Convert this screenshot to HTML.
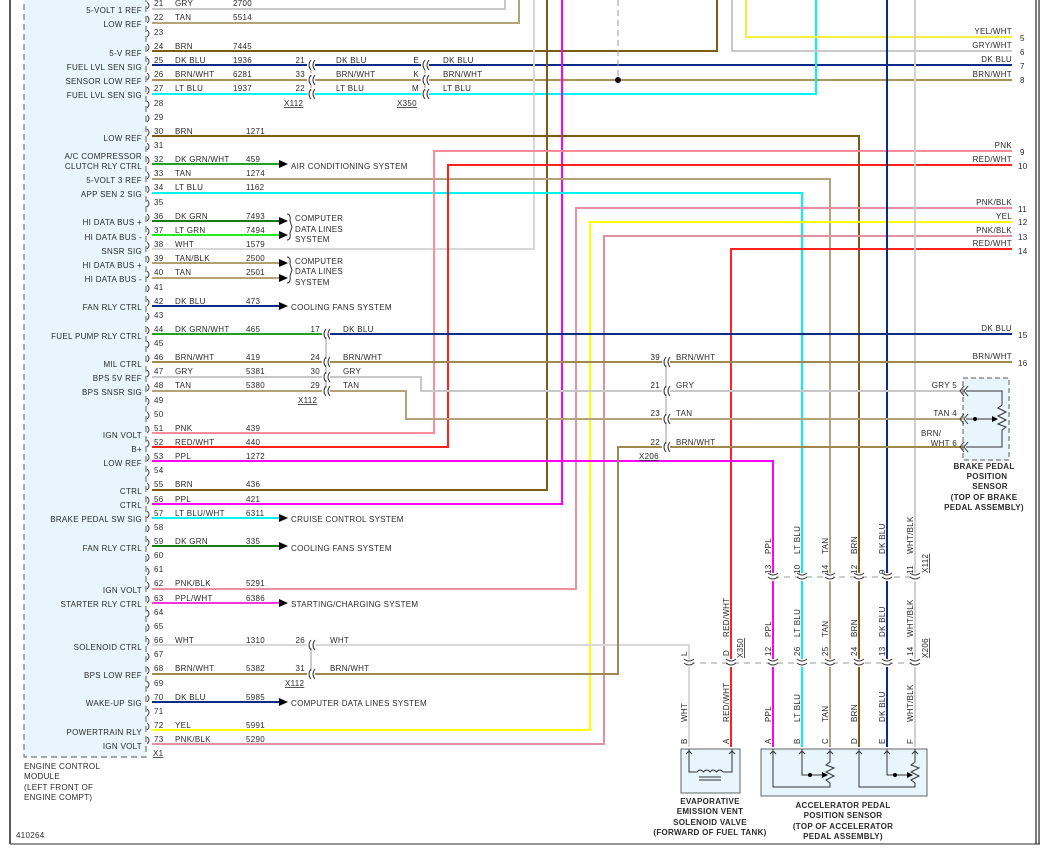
<!DOCTYPE html>
<html><head><meta charset="utf-8"><style>
html,body{margin:0;padding:0;background:#fff;}
svg{display:block;}
text{font-family:"Liberation Sans",sans-serif;font-size:8px;fill:#2a2a2a;letter-spacing:0.3px;}
.e{text-anchor:end;}
.m{text-anchor:middle;}
.b{font-weight:bold;}
.w{fill:none;stroke-width:2;stroke-linejoin:miter;}
</style></head><body>
<svg width="1045" height="851" viewBox="0 0 1045 851" xmlns="http://www.w3.org/2000/svg">
<defs>
<g id="c"><rect x="0" y="-3" width="8" height="6" fill="#fff"/><path d="M4,-5 Q0,0 4,5 M8,-5 Q4,0 8,5" stroke="#333" fill="none" stroke-width="1"/></g>
<g id="v"><rect x="-3" y="-4" width="6" height="8" fill="#fff"/><path d="M-5,-4 Q0,0 5,-4 M-5,0 Q0,4 5,0" stroke="#333" fill="none" stroke-width="1"/></g>
<g id="a"><path d="M-3,3 L0,0 L3,3" stroke="#333" fill="none" stroke-width="1"/></g>
</defs>
<!-- frame -->
<line x1="10" y1="0" x2="10" y2="844" stroke="#222" stroke-width="1.5"/>
<line x1="10" y1="844" x2="1040" y2="844" stroke="#555" stroke-width="1.2"/>
<line x1="1036" y1="0" x2="1036" y2="844" stroke="#222" stroke-width="1.2"/>
<line x1="1039" y1="0" x2="1039" y2="844" stroke="#222" stroke-width="1.2"/>
<!-- ECM box -->
<rect x="24" y="-2" width="122" height="759" fill="#e8f5fc" stroke="#777" stroke-width="1.2" stroke-dasharray="6,4"/>
<path d="M147,2 Q151,5.5 147,9 M147,16 Q151,19.5 147,23 M147,30 Q151,33.5 147,37 M147,44 Q151,47.5 147,51 M147,58 Q151,61.5 147,65 M147,73 Q151,76.5 147,80 M147,87 Q151,90.5 147,94 M147,101 Q151,104.5 147,108 M147,115 Q151,118.5 147,122 M147,129 Q151,132.5 147,136 M147,143 Q151,146.5 147,150 M147,157 Q151,160.5 147,164 M147,172 Q151,175.5 147,179 M147,186 Q151,189.5 147,193 M147,200 Q151,203.5 147,207 M147,214 Q151,217.5 147,221 M147,228 Q151,231.5 147,235 M147,242 Q151,245.5 147,249 M147,256 Q151,259.5 147,263 M147,271 Q151,274.5 147,278 M147,285 Q151,288.5 147,292 M147,299 Q151,302.5 147,306 M147,313 Q151,316.5 147,320 M147,327 Q151,330.5 147,334 M147,341 Q151,344.5 147,348 M147,355 Q151,358.5 147,362 M147,370 Q151,373.5 147,377 M147,384 Q151,387.5 147,391 M147,398 Q151,401.5 147,405 M147,412 Q151,415.5 147,419 M147,426 Q151,429.5 147,433 M147,440 Q151,443.5 147,447 M147,454 Q151,457.5 147,461 M147,469 Q151,472.5 147,476 M147,483 Q151,486.5 147,490 M147,497 Q151,500.5 147,504 M147,511 Q151,514.5 147,518 M147,525 Q151,528.5 147,532 M147,539 Q151,542.5 147,546 M147,554 Q151,557.5 147,561 M147,568 Q151,571.5 147,575 M147,582 Q151,585.5 147,589 M147,596 Q151,599.5 147,603 M147,610 Q151,613.5 147,617 M147,624 Q151,627.5 147,631 M147,638 Q151,641.5 147,645 M147,653 Q151,656.5 147,660 M147,667 Q151,670.5 147,674 M147,681 Q151,684.5 147,688 M147,695 Q151,698.5 147,702 M147,709 Q151,712.5 147,716 M147,723 Q151,726.5 147,730 M147,737 Q151,740.5 147,744" stroke="#444" fill="none" stroke-width="1"/>

<!-- wires -->
<polyline class="w" stroke="#c8c8c8" points="152,9 505,9 505,0"/>
<polyline class="w" stroke="#b4a278" points="152,23 519,23 519,0"/>
<polyline class="w" stroke="#7a5c14" points="152,51 717,51 717,0"/>
<polyline class="w" stroke="#0c2a88" points="152,65 1012,65"/>
<polyline class="w" stroke="#a89060" points="152,80 1012,80"/>
<polyline class="w" stroke="#00f4f4" points="152,94 816,94 816,0"/>
<polyline class="w" stroke="#f4f040" points="1012,37 746,37 746,0"/>
<polyline class="w" stroke="#c8c8c8" points="1012,51 732,51 732,0"/>
<line x1="618" y1="0" x2="618" y2="80" stroke="#999" stroke-width="1" stroke-dasharray="6,4"/>
<circle cx="618" cy="80" r="3" fill="#111"/>
<polyline class="w" stroke="#d8d8d8" points="152,249 534,249 534,0"/>
<polyline class="w" stroke="#7a5c14" points="152,490 547,490 547,0"/>
<polyline class="w" stroke="#ff00ff" points="152,504 562,504 562,0"/>
<polyline class="w" stroke="#7a5c14" points="152,136 859,136 859,747"/>
<polyline class="w" stroke="#b4a278" points="152,179 830,179 830,747"/>
<polyline class="w" stroke="#00f4f4" points="152,193 802,193 802,747"/>
<polyline class="w" stroke="#ff8a9a" points="152,433 434,433 434,151 1012,151"/>
<polyline class="w" stroke="#ff2020" points="152,447 448,447 448,165 1012,165"/>
<polyline class="w" stroke="#e890a0" points="152,589 576,589 576,208 1012,208"/>
<polyline class="w" stroke="#ffff00" points="152,730 590,730 590,222 1012,222"/>
<polyline class="w" stroke="#e090a0" points="152,744 604,744 604,236 1012,236"/>
<polyline class="w" stroke="#ff2020" points="1012,249 731,249 731,747"/>
<polyline class="w" stroke="#0c2a88" points="887,0 887,747"/>
<polyline class="w" stroke="#d0d0d0" points="915,0 915,747"/>
<polyline class="w" stroke="#22a022" points="152,334 323,334"/>
<polyline class="w" stroke="#0c2a88" points="323,334 1012,334"/>
<polyline class="w" stroke="#a08850" points="152,362 1012,362"/>
<polyline class="w" stroke="#c8c8c8" points="152,377 421,377 421,391 964,391"/>
<polyline class="w" stroke="#b4a278" points="152,391 406,391 406,419 964,419"/>
<polyline class="w" stroke="#ff00ff" points="152,461 773,461 773,747"/>
<polyline class="w" stroke="#d8d8d8" points="152,645 689,645 689,747"/>
<polyline class="w" stroke="#a08850" points="152,674 618,674 618,447 964,447"/>
<!-- arrow wires -->
<polyline class="w" stroke="#22a022" points="152,164 281,164"/>
<polyline class="w" stroke="#1a7a1a" points="152,221 281,221"/>
<polyline class="w" stroke="#22ee22" points="152,235 281,235"/>
<polyline class="w" stroke="#b0a070" points="152,263 281,263"/>
<polyline class="w" stroke="#b4a278" points="152,278 281,278"/>
<polyline class="w" stroke="#0c2a88" points="152,306 281,306"/>
<polyline class="w" stroke="#00f4f4" points="152,518 281,518"/>
<polyline class="w" stroke="#1a7a1a" points="152,546 281,546"/>
<polyline class="w" stroke="#ff33dd" points="152,603 281,603"/>
<polyline class="w" stroke="#0c2a88" points="152,702 281,702"/>
<path d="M279,160 L288,164 L279,168Z M279,217 L288,221 L279,225Z M279,231 L288,235 L279,239Z M279,259 L288,263 L279,267Z M279,274 L288,278 L279,282Z M279,302 L288,306 L279,310Z M279,514 L288,518 L279,522Z M279,542 L288,546 L279,550Z M279,599 L288,603 L279,607Z M279,698 L288,702 L279,706Z" fill="#000"/>
<path d="M287,214 Q291,214 290,221 L292,227 L290,233 Q291,240 287,240 M287,257 Q291,257 290,264 L292,270 L290,276 Q291,283 287,283" stroke="#333" fill="none" stroke-width="1"/>

<!-- connectors -->
<line x1="311" y1="65" x2="311" y2="94" stroke="#999" stroke-width="1" stroke-dasharray="3,2"/>
<line x1="425" y1="65" x2="425" y2="94" stroke="#999" stroke-width="1" stroke-dasharray="3,2"/>
<line x1="326" y1="334" x2="326" y2="391" stroke="#999" stroke-width="1"/>
<line x1="311" y1="645" x2="311" y2="674" stroke="#999" stroke-width="1"/>
<line x1="666" y1="362" x2="666" y2="447" stroke="#999" stroke-width="1"/>
<use href="#c" x="307" y="65"/><use href="#c" x="307" y="80"/><use href="#c" x="307" y="94"/>
<use href="#c" x="421" y="65"/><use href="#c" x="421" y="80"/><use href="#c" x="421" y="94"/>
<use href="#c" x="322" y="334"/><use href="#c" x="322" y="362"/><use href="#c" x="322" y="377"/><use href="#c" x="322" y="391"/>
<use href="#c" x="307" y="645"/><use href="#c" x="307" y="674"/>
<use href="#c" x="662" y="362"/><use href="#c" x="662" y="391"/><use href="#c" x="662" y="419"/><use href="#c" x="662" y="447"/>
<line x1="773" y1="577" x2="915" y2="577" stroke="#999" stroke-width="1" stroke-dasharray="6,5"/>
<line x1="689" y1="663" x2="915" y2="663" stroke="#999" stroke-width="1" stroke-dasharray="6,5"/>
<use href="#v" x="773" y="577"/><use href="#v" x="802" y="577"/><use href="#v" x="830" y="577"/><use href="#v" x="859" y="577"/><use href="#v" x="887" y="577"/><use href="#v" x="915" y="577"/>
<use href="#v" x="689" y="663"/><use href="#v" x="731" y="663"/><use href="#v" x="773" y="663"/><use href="#v" x="802" y="663"/><use href="#v" x="830" y="663"/><use href="#v" x="859" y="663"/><use href="#v" x="887" y="663"/><use href="#v" x="915" y="663"/>

<!-- brake sensor -->
<rect x="963" y="378" width="46" height="82" fill="#e8f5fc" stroke="#777" stroke-width="1.2" stroke-dasharray="5,3"/>
<path d="M966,391 L1002,391 L1002,405 L998,408 L1006,412 L998,416 L1006,420 L998,424 L1006,427 L1002,430 L1002,447 L966,447 M966,419 L996,419" stroke="#333" fill="none" stroke-width="1"/>
<path d="M992,416 L998,419 L992,422Z" fill="#000"/><circle cx="975" cy="419" r="2" fill="#000"/>
<path d="M964,386 L960,391 L964,396 M968,386 L964,391 L968,396 M964,414 L960,419 L964,424 M968,414 L964,419 L968,424 M964,442 L960,447 L964,452 M968,442 L964,447 L968,452" stroke="#333" fill="none" stroke-width="1"/>

<!-- evap box -->
<rect x="681" y="749" width="59" height="44" fill="#e8f5fc" stroke="#666" stroke-width="1"/>
<path d="M689,749 L689,772 L697,772 M723,772 L732,772 L732,749 M697,772 q3,-4 6.5,0 q3,-4 6.5,0 q3,-4 6.5,0 q3,-4 6.5,0 M699,777 L721,777 M699,780 L721,780" stroke="#333" fill="none" stroke-width="1"/>
<!-- accel box -->
<rect x="761" y="749" width="166" height="47" fill="#e8f5fc" stroke="#666" stroke-width="1"/>
<path d="M773,749 L773,787 L830,787 L830,783 L826,780 L834,776 L826,772 L834,768 L826,765 L830,762 L830,749 M802,749 L802,775 L824,775 M859,749 L859,787 L915,787 L915,783 L911,780 L919,776 L911,772 L919,768 L911,765 L915,762 L915,749 M887,749 L887,775 L909,775" stroke="#333" fill="none" stroke-width="1"/>
<path d="M822,772 L828,775 L822,778Z M907,772 L913,775 L907,778Z" fill="#000"/>
<circle cx="810" cy="775" r="2" fill="#000"/><circle cx="895" cy="775" r="2" fill="#000"/>
<use href="#a" x="689" y="751"/><use href="#a" x="732" y="751"/><use href="#a" x="773" y="751"/><use href="#a" x="802" y="751"/><use href="#a" x="830" y="751"/><use href="#a" x="859" y="751"/><use href="#a" x="887" y="751"/><use href="#a" x="915" y="751"/>

<!-- ECM labels -->
<g class="e">
<text x="142" y="13" class="e">5-VOLT 1 REF</text>
<text x="142" y="27" class="e">LOW REF</text>
<text x="142" y="56" class="e">5-V REF</text>
<text x="142" y="70" class="e">FUEL LVL SEN SIG</text>
<text x="142" y="84" class="e">SENSOR LOW REF</text>
<text x="142" y="98" class="e">FUEL LVL SEN SIG</text>
<text x="142" y="141" class="e">LOW REF</text>
<text x="142" y="159" class="e">A/C COMPRESSOR</text>
<text x="142" y="169" class="e">CLUTCH RLY CTRL</text>
<text x="142" y="183" class="e">5-VOLT 3 REF</text>
<text x="142" y="197" class="e">APP SEN 2 SIG</text>
<text x="142" y="225" class="e">HI DATA BUS +</text>
<text x="142" y="240" class="e">HI DATA BUS -</text>
<text x="142" y="254" class="e">SNSR SIG</text>
<text x="142" y="268" class="e">HI DATA BUS +</text>
<text x="142" y="282" class="e">HI DATA BUS -</text>
<text x="142" y="310" class="e">FAN RLY CTRL</text>
<text x="142" y="339" class="e">FUEL PUMP RLY CTRL</text>
<text x="142" y="367" class="e">MIL CTRL</text>
<text x="142" y="381" class="e">BPS 5V REF</text>
<text x="142" y="395" class="e">BPS SNSR SIG</text>
<text x="142" y="438" class="e">IGN VOLT</text>
<text x="142" y="452" class="e">B+</text>
<text x="142" y="466" class="e">LOW REF</text>
<text x="142" y="494" class="e">CTRL</text>
<text x="142" y="508" class="e">CTRL</text>
<text x="142" y="522" class="e">BRAKE PEDAL SW SIG</text>
<text x="142" y="551" class="e">FAN RLY CTRL</text>
<text x="142" y="593" class="e">IGN VOLT</text>
<text x="142" y="607" class="e">STARTER RLY CTRL</text>
<text x="142" y="650" class="e">SOLENOID CTRL</text>
<text x="142" y="678" class="e">BPS LOW REF</text>
<text x="142" y="706" class="e">WAKE-UP SIG</text>
<text x="142" y="735" class="e">POWERTRAIN RLY</text>
<text x="142" y="749" class="e">IGN VOLT</text>
</g>
<text x="24" y="769">ENGINE CONTROL</text>
<text x="24" y="779">MODULE</text>
<text x="24" y="790">(LEFT FRONT OF</text>
<text x="24" y="800">ENGINE COMPT)</text>
<text x="16" y="838">410264</text>
<text x="153" y="756" text-decoration="underline">X1</text>

<!-- pin numbers -->
<text x="154" y="6">21</text><text x="154" y="20">22</text><text x="154" y="35">23</text><text x="154" y="49">24</text><text x="154" y="63">25</text><text x="154" y="77">26</text><text x="154" y="91">27</text><text x="154" y="106">28</text><text x="154" y="120">29</text><text x="154" y="134">30</text><text x="154" y="148">31</text><text x="154" y="162">32</text><text x="154" y="176">33</text><text x="154" y="190">34</text><text x="154" y="205">35</text><text x="154" y="219">36</text><text x="154" y="233">37</text><text x="154" y="247">38</text><text x="154" y="261">39</text><text x="154" y="275">40</text><text x="154" y="290">41</text><text x="154" y="304">42</text><text x="154" y="318">43</text><text x="154" y="332">44</text><text x="154" y="346">45</text><text x="154" y="360">46</text><text x="154" y="374">47</text><text x="154" y="388">48</text><text x="154" y="403">49</text><text x="154" y="417">50</text><text x="154" y="431">51</text><text x="154" y="445">52</text><text x="154" y="459">53</text><text x="154" y="473">54</text><text x="154" y="487">55</text><text x="154" y="502">56</text><text x="154" y="516">57</text><text x="154" y="530">58</text><text x="154" y="544">59</text><text x="154" y="558">60</text><text x="154" y="572">61</text><text x="154" y="586">62</text><text x="154" y="601">63</text><text x="154" y="615">64</text><text x="154" y="629">65</text><text x="154" y="643">66</text><text x="154" y="657">67</text><text x="154" y="671">68</text><text x="154" y="686">69</text><text x="154" y="700">70</text><text x="154" y="714">71</text><text x="154" y="728">72</text><text x="154" y="742">73</text>

<!-- wire color + circuit labels -->
<text x="175" y="6">GRY</text><text x="233" y="6">2700</text>
<text x="175" y="20">TAN</text><text x="233" y="20">5514</text>
<text x="175" y="49">BRN</text><text x="233" y="49">7445</text>
<text x="175" y="63">DK BLU</text><text x="233" y="63">1936</text>
<text x="175" y="77">BRN/WHT</text><text x="233" y="77">6281</text>
<text x="175" y="91">LT BLU</text><text x="233" y="91">1937</text>
<text x="175" y="134">BRN</text><text x="246" y="134">1271</text>
<text x="175" y="162">DK GRN/WHT</text><text x="246" y="162">459</text>
<text x="175" y="176">TAN</text><text x="246" y="176">1274</text>
<text x="175" y="190">LT BLU</text><text x="246" y="190">1162</text>
<text x="175" y="219">DK GRN</text><text x="246" y="219">7493</text>
<text x="175" y="233">LT GRN</text><text x="246" y="233">7494</text>
<text x="175" y="247">WHT</text><text x="246" y="247">1579</text>
<text x="175" y="261">TAN/BLK</text><text x="246" y="261">2500</text>
<text x="175" y="275">TAN</text><text x="246" y="275">2501</text>
<text x="175" y="304">DK BLU</text><text x="246" y="304">473</text>
<text x="175" y="332">DK GRN/WHT</text><text x="246" y="332">465</text>
<text x="175" y="360">BRN/WHT</text><text x="246" y="360">419</text>
<text x="175" y="374">GRY</text><text x="246" y="374">5381</text>
<text x="175" y="388">TAN</text><text x="246" y="388">5380</text>
<text x="175" y="431">PNK</text><text x="246" y="431">439</text>
<text x="175" y="445">RED/WHT</text><text x="246" y="445">440</text>
<text x="175" y="459">PPL</text><text x="246" y="459">1272</text>
<text x="175" y="487">BRN</text><text x="246" y="487">436</text>
<text x="175" y="502">PPL</text><text x="246" y="502">421</text>
<text x="175" y="516">LT BLU/WHT</text><text x="246" y="516">6311</text>
<text x="175" y="544">DK GRN</text><text x="246" y="544">335</text>
<text x="175" y="586">PNK/BLK</text><text x="246" y="586">5291</text>
<text x="175" y="601">PPL/WHT</text><text x="246" y="601">6386</text>
<text x="175" y="643">WHT</text><text x="246" y="643">1310</text>
<text x="175" y="671">BRN/WHT</text><text x="246" y="671">5382</text>
<text x="175" y="700">DK BLU</text><text x="246" y="700">5985</text>
<text x="175" y="728">YEL</text><text x="246" y="728">5991</text>
<text x="175" y="742">PNK/BLK</text><text x="246" y="742">5290</text>

<!-- system labels -->
<text x="291" y="169">AIR CONDITIONING SYSTEM</text>
<text x="295" y="221">COMPUTER</text><text x="295" y="232">DATA LINES</text><text x="295" y="242">SYSTEM</text>
<text x="295" y="264">COMPUTER</text><text x="295" y="274">DATA LINES</text><text x="295" y="285">SYSTEM</text>
<text x="291" y="310">COOLING FANS SYSTEM</text>
<text x="291" y="522">CRUISE CONTROL SYSTEM</text>
<text x="291" y="551">COOLING FANS SYSTEM</text>
<text x="291" y="607">STARTING/CHARGING SYSTEM</text>
<text x="291" y="706">COMPUTER DATA LINES SYSTEM</text>

<!-- connector labels -->
<text x="305" y="63" class="e">21</text><text x="305" y="77" class="e">33</text><text x="305" y="91" class="e">22</text>
<text x="336" y="63">DK BLU</text><text x="336" y="77">BRN/WHT</text><text x="336" y="91">LT BLU</text>
<text x="284" y="106" text-decoration="underline">X112</text>
<text x="419" y="63" class="e">E</text><text x="419" y="77" class="e">K</text><text x="419" y="91" class="e">M</text>
<text x="443" y="63">DK BLU</text><text x="443" y="77">BRN/WHT</text><text x="443" y="91">LT BLU</text>
<text x="397" y="106" text-decoration="underline">X350</text>
<text x="320" y="332" class="e">17</text><text x="320" y="360" class="e">24</text><text x="320" y="374" class="e">30</text><text x="320" y="388" class="e">29</text>
<text x="343" y="332">DK BLU</text><text x="343" y="360">BRN/WHT</text><text x="343" y="374">GRY</text><text x="343" y="388">TAN</text>
<text x="298" y="403" text-decoration="underline">X112</text>
<text x="305" y="643" class="e">26</text><text x="305" y="671" class="e">31</text>
<text x="330" y="643">WHT</text><text x="330" y="671">BRN/WHT</text>
<text x="285" y="686" text-decoration="underline">X112</text>
<text x="660" y="360" class="e">39</text><text x="660" y="388" class="e">21</text><text x="660" y="416" class="e">23</text><text x="660" y="445" class="e">22</text>
<text x="676" y="360">BRN/WHT</text><text x="676" y="388">GRY</text><text x="676" y="416">TAN</text><text x="676" y="445">BRN/WHT</text>
<text x="639" y="459" text-decoration="underline">X206</text>

<!-- right labels -->
<text x="1012" y="34" class="e">YEL/WHT</text><text x="1020" y="41">5</text>
<text x="1012" y="48" class="e">GRY/WHT</text><text x="1020" y="55">6</text>
<text x="1012" y="62" class="e">DK BLU</text><text x="1020" y="69">7</text>
<text x="1012" y="77" class="e">BRN/WHT</text><text x="1020" y="83">8</text>
<text x="1012" y="148" class="e">PNK</text><text x="1020" y="155">9</text>
<text x="1012" y="162" class="e">RED/WHT</text><text x="1018" y="169">10</text>
<text x="1012" y="205" class="e">PNK/BLK</text><text x="1018" y="212">11</text>
<text x="1012" y="219" class="e">YEL</text><text x="1018" y="225">12</text>
<text x="1012" y="233" class="e">PNK/BLK</text><text x="1018" y="240">13</text>
<text x="1012" y="246" class="e">RED/WHT</text><text x="1018" y="254">14</text>
<text x="1012" y="331" class="e">DK BLU</text><text x="1018" y="338">15</text>
<text x="1012" y="359" class="e">BRN/WHT</text><text x="1018" y="366">16</text>

<!-- brake sensor labels -->
<text x="957" y="388" class="e">GRY  5</text>
<text x="957" y="416" class="e">TAN  4</text>
<text x="921" y="436">BRN/</text>
<text x="957" y="446" class="e">WHT  6</text>
<g class="b">
<text x="984" y="469" class="m">BRAKE PEDAL</text>
<text x="987" y="479" class="m">POSITION</text>
<text x="990" y="489" class="m">SENSOR</text>
<text x="984" y="500" class="m">(TOP OF BRAKE</text>
<text x="984" y="510" class="m">PEDAL ASSEMBLY)</text>
<text x="710" y="804" class="m">EVAPORATIVE</text>
<text x="710" y="814" class="m">EMISSION VENT</text>
<text x="710" y="825" class="m">SOLENOID VALVE</text>
<text x="710" y="835" class="m">(FORWARD OF FUEL TANK)</text>
<text x="843" y="808" class="m">ACCELERATOR PEDAL</text>
<text x="843" y="818" class="m">POSITION SENSOR</text>
<text x="843" y="829" class="m">(TOP OF ACCELERATOR</text>
<text x="843" y="839" class="m">PEDAL ASSEMBLY)</text>
</g>

<!-- rotated labels -->
<g>
<text transform="translate(771,554) rotate(-90)">PPL</text>
<text transform="translate(800,554) rotate(-90)">LT BLU</text>
<text transform="translate(828,554) rotate(-90)">TAN</text>
<text transform="translate(857,554) rotate(-90)">BRN</text>
<text transform="translate(885,554) rotate(-90)">DK BLU</text>
<text transform="translate(913,554) rotate(-90)">WHT/BLK</text>
<text transform="translate(771,574) rotate(-90)">13</text>
<text transform="translate(800,574) rotate(-90)">10</text>
<text transform="translate(828,574) rotate(-90)">14</text>
<text transform="translate(857,574) rotate(-90)">12</text>
<text transform="translate(885,574) rotate(-90)">9</text>
<text transform="translate(913,574) rotate(-90)">11</text>
<text transform="translate(928,573) rotate(-90)" text-decoration="underline">X112</text>
<text transform="translate(729,637) rotate(-90)">RED/WHT</text>
<text transform="translate(771,637) rotate(-90)">PPL</text>
<text transform="translate(800,637) rotate(-90)">LT BLU</text>
<text transform="translate(828,637) rotate(-90)">TAN</text>
<text transform="translate(857,637) rotate(-90)">BRN</text>
<text transform="translate(885,637) rotate(-90)">DK BLU</text>
<text transform="translate(913,637) rotate(-90)">WHT/BLK</text>
<text transform="translate(687,656) rotate(-90)">L</text>
<text transform="translate(729,656) rotate(-90)">D</text>
<text transform="translate(743,658) rotate(-90)" text-decoration="underline">X350</text>
<text transform="translate(771,656) rotate(-90)">12</text>
<text transform="translate(800,656) rotate(-90)">26</text>
<text transform="translate(828,656) rotate(-90)">25</text>
<text transform="translate(857,656) rotate(-90)">24</text>
<text transform="translate(885,656) rotate(-90)">13</text>
<text transform="translate(913,656) rotate(-90)">14</text>
<text transform="translate(928,658) rotate(-90)" text-decoration="underline">X206</text>
<text transform="translate(687,722) rotate(-90)">WHT</text>
<text transform="translate(729,722) rotate(-90)">RED/WHT</text>
<text transform="translate(771,722) rotate(-90)">PPL</text>
<text transform="translate(800,722) rotate(-90)">LT BLU</text>
<text transform="translate(828,722) rotate(-90)">TAN</text>
<text transform="translate(857,722) rotate(-90)">BRN</text>
<text transform="translate(885,722) rotate(-90)">DK BLU</text>
<text transform="translate(913,722) rotate(-90)">WHT/BLK</text>
<text transform="translate(687,744) rotate(-90)">B</text>
<text transform="translate(729,744) rotate(-90)">A</text>
<text transform="translate(771,744) rotate(-90)">A</text>
<text transform="translate(800,744) rotate(-90)">B</text>
<text transform="translate(828,744) rotate(-90)">C</text>
<text transform="translate(857,744) rotate(-90)">D</text>
<text transform="translate(885,744) rotate(-90)">E</text>
<text transform="translate(913,744) rotate(-90)">F</text>
</g>
</svg>
</body></html>
